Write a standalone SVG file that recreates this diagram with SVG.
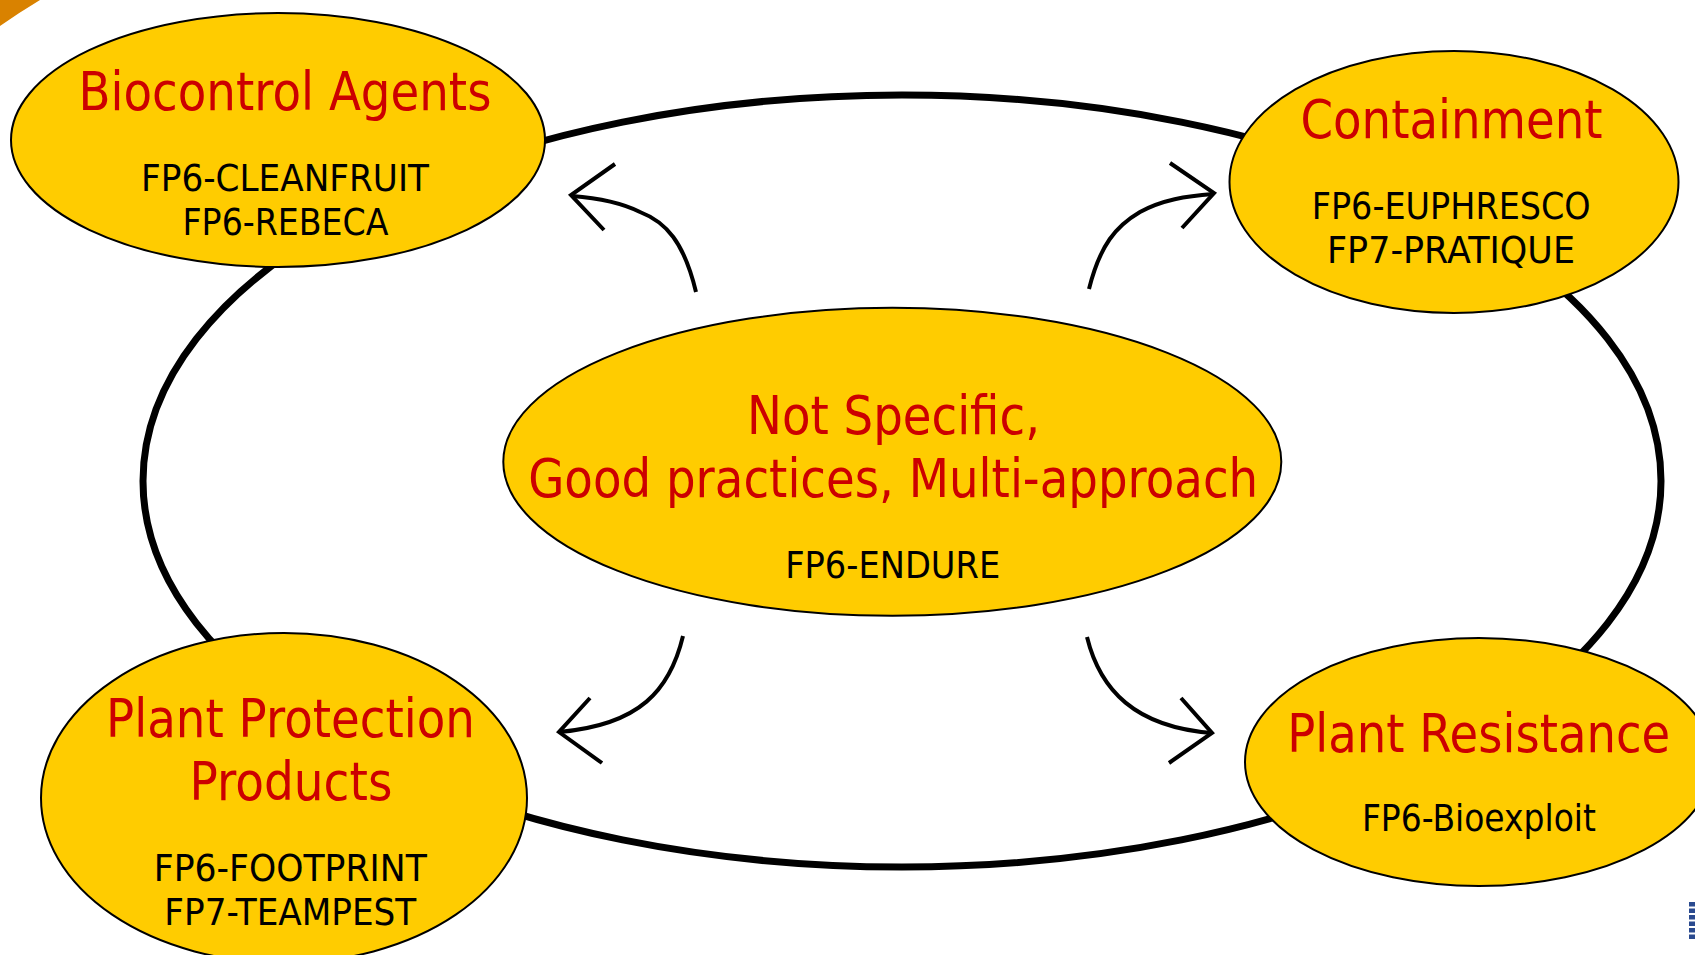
<svg xmlns="http://www.w3.org/2000/svg" width="1695" height="955" viewBox="0 0 1695 955">
  <style>
    .node { fill: #FFCC00; stroke: #000; stroke-width: 2; }
    .title { font-family: "DejaVu Sans", "Liberation Sans", sans-serif; font-size: 52.5px; fill: #CC0000; text-anchor: middle; }
    .sub { font-family: "DejaVu Sans", "Liberation Sans", sans-serif; font-size: 37.5px; fill: #000; text-anchor: middle; }
    .loop { fill: none; stroke: #000; stroke-width: 7; }
    .arrow { fill: none; stroke: #000; stroke-width: 4; }
  </style>
  <rect width="1695" height="955" fill="#fff"/>
  <path d="M0,0 L40,0 Q20,12 0,26 Z" fill="#D98200"/>
  <g id="logo-fragment" fill="#2A4A8F">
    <rect x="1689" y="902" width="6" height="4.5"/>
    <rect x="1689" y="908.5" width="6" height="4.5"/>
    <rect x="1689" y="915" width="6" height="4.5"/>
    <rect x="1689" y="921.5" width="6" height="4.5"/>
    <rect x="1689" y="928" width="6" height="4.5"/>
    <rect x="1689" y="934.5" width="6" height="4.5"/>
  </g>
  <g id="connectors">
    <ellipse class="loop" cx="902" cy="481" rx="759" ry="386"/>
    <path class="arrow" d="M696,292 C684,242 666,222 640,212 C620,202 598,198 572,196"/>
    <polyline class="arrow" points="615,164 571,195 604,230"/>
    <path class="arrow" d="M1089,289 C1100,245 1116,226 1140,212 C1162,200 1186,196 1213,194"/>
    <polyline class="arrow" points="1170,163 1214,193 1182,228"/>
    <path class="arrow" d="M683,636 C670,690 640,725 559,732"/>
    <polyline class="arrow" points="590,698 559,732 602,763"/>
    <path class="arrow" d="M1087,637 C1100,690 1135,727 1212,733"/>
    <polyline class="arrow" points="1181,698 1212,733 1169,763"/>
  </g>
  <g id="node-biocontrol">
    <ellipse class="node" cx="278" cy="140" rx="267" ry="127"/>
    <text class="title" x="285" y="110" textLength="413" lengthAdjust="spacingAndGlyphs">Biocontrol Agents</text>
    <text class="sub" x="285" y="190.7" textLength="288" lengthAdjust="spacingAndGlyphs">FP6-CLEANFRUIT</text>
    <text class="sub" x="285.5" y="235" textLength="206" lengthAdjust="spacingAndGlyphs">FP6-REBECA</text>
  </g>
  <g id="node-containment">
    <ellipse class="node" cx="1454" cy="182" rx="224.5" ry="131"/>
    <text class="title" x="1451.5" y="138.3" textLength="302" lengthAdjust="spacingAndGlyphs">Containment</text>
    <text class="sub" x="1451.2" y="219" textLength="279" lengthAdjust="spacingAndGlyphs">FP6-EUPHRESCO</text>
    <text class="sub" x="1451" y="263.3" textLength="248" lengthAdjust="spacingAndGlyphs">FP7-PRATIQUE</text>
  </g>
  <g id="node-central">
    <ellipse class="node" cx="892.3" cy="461.8" rx="389" ry="154"/>
    <text class="title" x="893.5" y="434" textLength="293" lengthAdjust="spacingAndGlyphs">Not Specific,</text>
    <text class="title" x="893.2" y="497.3" textLength="730" lengthAdjust="spacingAndGlyphs">Good practices, Multi-approach</text>
    <text class="sub" x="892.7" y="577.7" textLength="215" lengthAdjust="spacingAndGlyphs">FP6-ENDURE</text>
  </g>
  <g id="node-ppp">
    <ellipse class="node" cx="284" cy="798" rx="243" ry="165"/>
    <text class="title" x="290.5" y="736.7" textLength="369" lengthAdjust="spacingAndGlyphs">Plant Protection</text>
    <text class="title" x="290.9" y="800" textLength="203" lengthAdjust="spacingAndGlyphs">Products</text>
    <text class="sub" x="290.3" y="880.7" textLength="273" lengthAdjust="spacingAndGlyphs">FP6-FOOTPRINT</text>
    <text class="sub" x="290.3" y="925" textLength="252" lengthAdjust="spacingAndGlyphs">FP7-TEAMPEST</text>
  </g>
  <g id="node-resistance">
    <ellipse class="node" cx="1479" cy="762" rx="234" ry="124"/>
    <text class="title" x="1478.7" y="751.7" textLength="383" lengthAdjust="spacingAndGlyphs">Plant Resistance</text>
    <text class="sub" x="1478.9" y="830.7" textLength="234" lengthAdjust="spacingAndGlyphs">FP6-Bioexploit</text>
  </g>
</svg>
